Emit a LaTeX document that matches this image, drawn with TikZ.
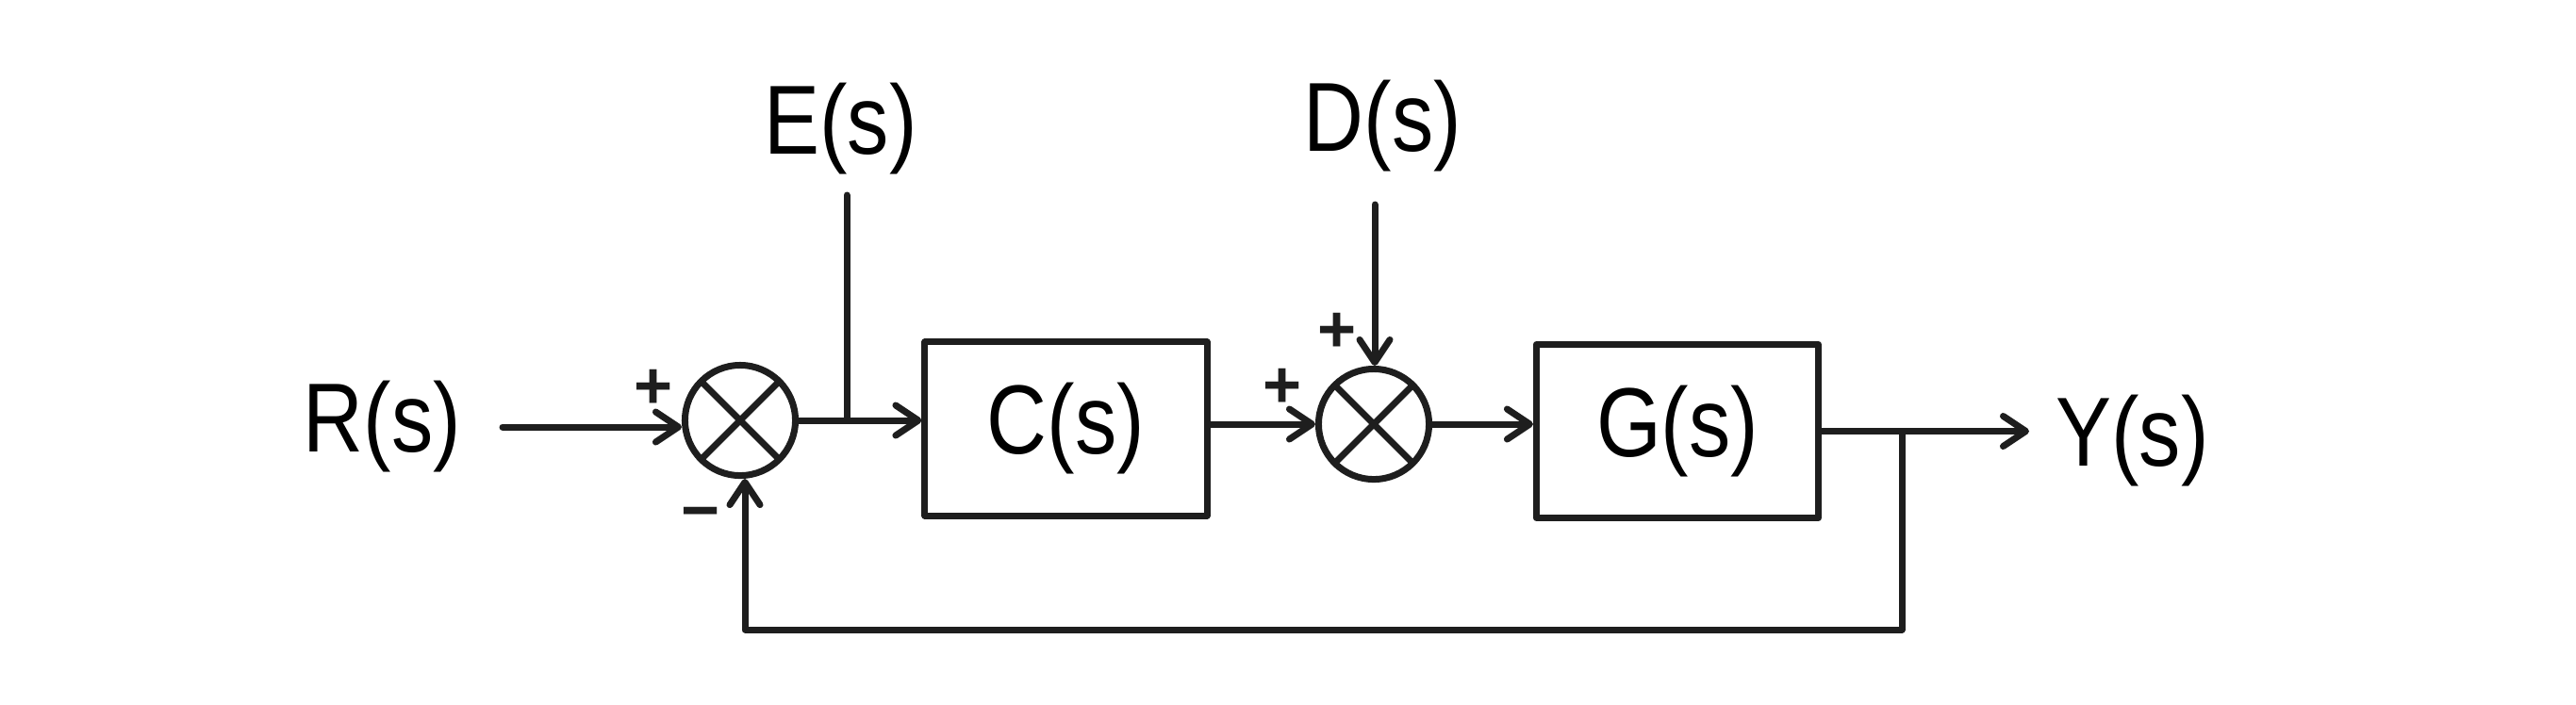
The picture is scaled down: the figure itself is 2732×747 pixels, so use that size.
\documentclass[tikz,border=0pt]{standalone}
\usepackage{fontspec}
\setmainfont{Liberation Sans}[FakeStretch=0.85]
\newfontfamily\signfont{Liberation Sans}
\usetikzlibrary{arrows.meta}
\definecolor{ink}{HTML}{1E1E1E}
\begin{document}
\begin{tikzpicture}[x=0.01cm,y=-0.01cm,
  line width=0.07cm, line cap=round, line join=round, draw=ink,
  lbl/.style={font=\fontsize{29.6pt}{36pt}\selectfont, inner sep=0pt, text=black},
  sgn/.style={font=\signfont\bfseries\fontsize{20pt}{24pt}\selectfont, inner sep=0pt, text=ink},
  blk/.style={draw=ink, rectangle, minimum width=2.99cm, minimum height=1.84cm, inner sep=0pt,
              font=\fontsize{29.6pt}{36pt}\selectfont, text=black},
  sumnode/.style={draw=ink, circle, minimum size=1.17cm, inner sep=0pt},
  cross/.style={line cap=butt, shorten <=0.035cm, shorten >=0.035cm},
  arr/.style={-{Straight Barb[length=0.24cm,width=0.32cm,round]}}
]
\useasboundingbox (0,0) rectangle (2732,747);
\fill[white] (0,0) rectangle (2732,747);

% labels
\node[lbl, anchor=base] (R) at (405.5,479) {R(s)};
\node[lbl, anchor=base] (E) at (891.5,163) {E(s)};
\node[lbl, anchor=base] (D) at (1466.5,160) {D(s)};
\node[lbl, anchor=base] (Y) at (2261.5,494) {Y(s)};

% summing junctions
\node[sumnode] (s1) at (785,446) {};
\node[sumnode] (s2) at (1457,450) {};
\draw[cross] (s1.45) -- (s1.225) (s1.135) -- (s1.315);
\draw[cross] (s2.45) -- (s2.225) (s2.135) -- (s2.315);

% blocks
\node[blk] (C) at (1130.5,455) {C(s)};
\node[blk] (G) at (1779,457.5) {G(s)};

% signs
\node[sgn] (p1) at (693,413) {+};
\node[sgn] (m1) at (743,552) {−};
\node[sgn] (p2) at (1360,412) {+};
\node[sgn] (p3) at (1418,353) {+};

% free ends
\coordinate (rin) at (533,453);
\coordinate (etop) at (898,207);
\coordinate (dtop) at (1458,217);
\coordinate (yout) at (2152,457.5);
\coordinate (fb) at (2017,457.5);
\coordinate (fbl) at (790,668);

% connectors
\draw[arr] (rin) -- (rin -| s1.west);
\draw[arr] (s1.east) -- (s1.east -| C.west);
\draw (etop) -- (etop |- s1.east);
\draw[arr] (C.east |- s2.west) -- (s2.west);
\draw[arr] (dtop) -- (dtop |- s2.north);
\draw[arr] (s2.east) -- (s2.east -| G.west);
\draw[arr] (G.east) -- (yout);
\draw[arr] (fb) |- (fbl) -- (fbl |- s1.south);
\end{tikzpicture}
\end{document}
